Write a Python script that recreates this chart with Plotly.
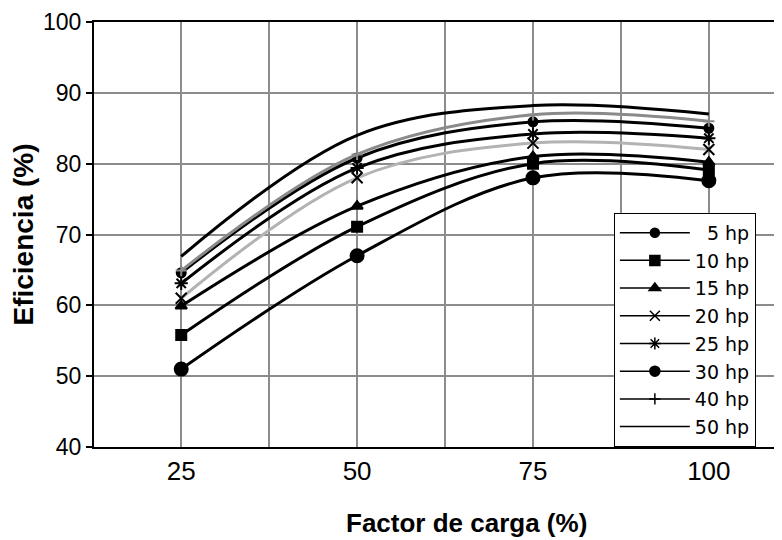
import plotly.graph_objects as go

# Eficiencia de motores vs. factor de carga
carga = [25, 50, 75, 100]

motores = ["5 hp", "10 hp", "15 hp", "20 hp", "25 hp", "30 hp", "40 hp", "50 hp"]
ef_5hp = [64.6, 80.8, 85.9, 85.0]
ef_10hp = [55.8, 71.1, 80.0, 79.1]
ef_15hp = [59.9, 74.0, 81.0, 80.2]
ef_20hp = [61.0, 78.0, 82.9, 82.0]
ef_25hp = [63.1, 79.4, 84.2, 83.6]
ef_30hp = [51.0, 67.0, 78.0, 77.6]
ef_40hp = [64.9, 81.3, 86.9, 86.0]
ef_50hp = [66.9, 84.0, 88.2, 87.0]

series = [ef_5hp, ef_10hp, ef_15hp, ef_20hp, ef_25hp, ef_30hp, ef_40hp, ef_50hp]

y_ticks = [40, 50, 60, 70, 80, 90, 100]
x_minor = [37.5, 62.5, 87.5]

# estilo de cada curva
line_colors = ["black", "black", "black", "#b3b3b3", "black", "black", "#8a8a8a", "black"]
marker_colors = ["black", "black", "black", "black", "black", "black", "#8a8a8a", "black"]
symbols = ["circle", "square", "triangle-up", "x-thin-open", "asterisk-open",
           "circle", "cross-thin-open", None]
sizes = [9, 10, 10, 11, 11, 13, 8, 0]

FONT = "Liberation Sans, Arial, sans-serif"

fig = go.Figure()

# curvas suavizadas con sus marcadores
for name, ys, col, mcol, sym, sz in zip(motores, series, line_colors, marker_colors, symbols, sizes):
    marker = dict(color=mcol, size=sz, line=dict(color=mcol, width=2))
    if sym:
        marker["symbol"] = sym
    fig.add_trace(go.Scatter(
        x=carga, y=ys, name=name,
        mode="lines+markers" if sym else "lines",
        line=dict(color=col, width=3, shape="spline", smoothing=1.0),
        marker=marker, showlegend=False,
    ))

# entradas de leyenda (todas en negro como en la figura original)
for name, sym, sz in zip(motores, symbols, sizes):
    marker = dict(color="black", size=min(sz, 10), line=dict(color="black", width=1.5))
    if sym:
        marker["symbol"] = sym
    label = name if len(name) > 4 else "\u2007" + name
    fig.add_trace(go.Scatter(
        x=[None], y=[None], name=label,
        mode="lines+markers" if sym else "lines",
        line=dict(color="black", width=1.5),
        marker=marker,
    ))

# la página añade 8 px de margen, por eso l/t son 8 px menores
fig.update_layout(
    width=782, height=540,
    margin=dict(l=86, r=8, t=14, b=101),
    paper_bgcolor="white", plot_bgcolor="white",
    font=dict(family=FONT, size=22, color="black"),
    showlegend=True,
    legend=dict(
        x=0.962, y=0.551, xanchor="right", yanchor="top",
        bgcolor="white", bordercolor="black", borderwidth=1,
        font=dict(family="DejaVu Sans, sans-serif", size=19),
        tracegroupgap=0, itemwidth=70,
    ),
    xaxis=dict(
        range=[12.6, 110.4],
        automargin=False,
        tickvals=carga, ticktext=[str(c) for c in carga],
        showgrid=True, gridcolor="#8c8c8c", gridwidth=1.5,
        minor=dict(tickvals=x_minor, showgrid=True, gridcolor="#8c8c8c", gridwidth=1.5),
        showline=True, linecolor="black", linewidth=2, mirror=True,
        ticks="", zeroline=False,
        tickfont=dict(size=26),
    ),
    yaxis=dict(
        range=[40, 100],
        automargin=False,
        tickvals=y_ticks,
        showgrid=True, gridcolor="#8c8c8c", gridwidth=1.5,
        showline=True, linecolor="black", linewidth=2,
        ticks="outside", ticklen=6, tickcolor="black", tickwidth=1.5,
        ticklabelstandoff=0,
        zeroline=False,
        tickfont=dict(size=23),
        title=dict(text="<b>Eficiencia (%)</b>", font=dict(size=28), standoff=4),
    ),
)

# título del eje x: en el original está algo desplazado a la derecha
fig.add_annotation(
    text="<b>Factor de carga (%)</b>", xref="paper", yref="paper",
    x=0.542, y=-0.179, xanchor="center", yanchor="middle",
    showarrow=False, font=dict(size=26),
)

fig.write_html("out.html")
